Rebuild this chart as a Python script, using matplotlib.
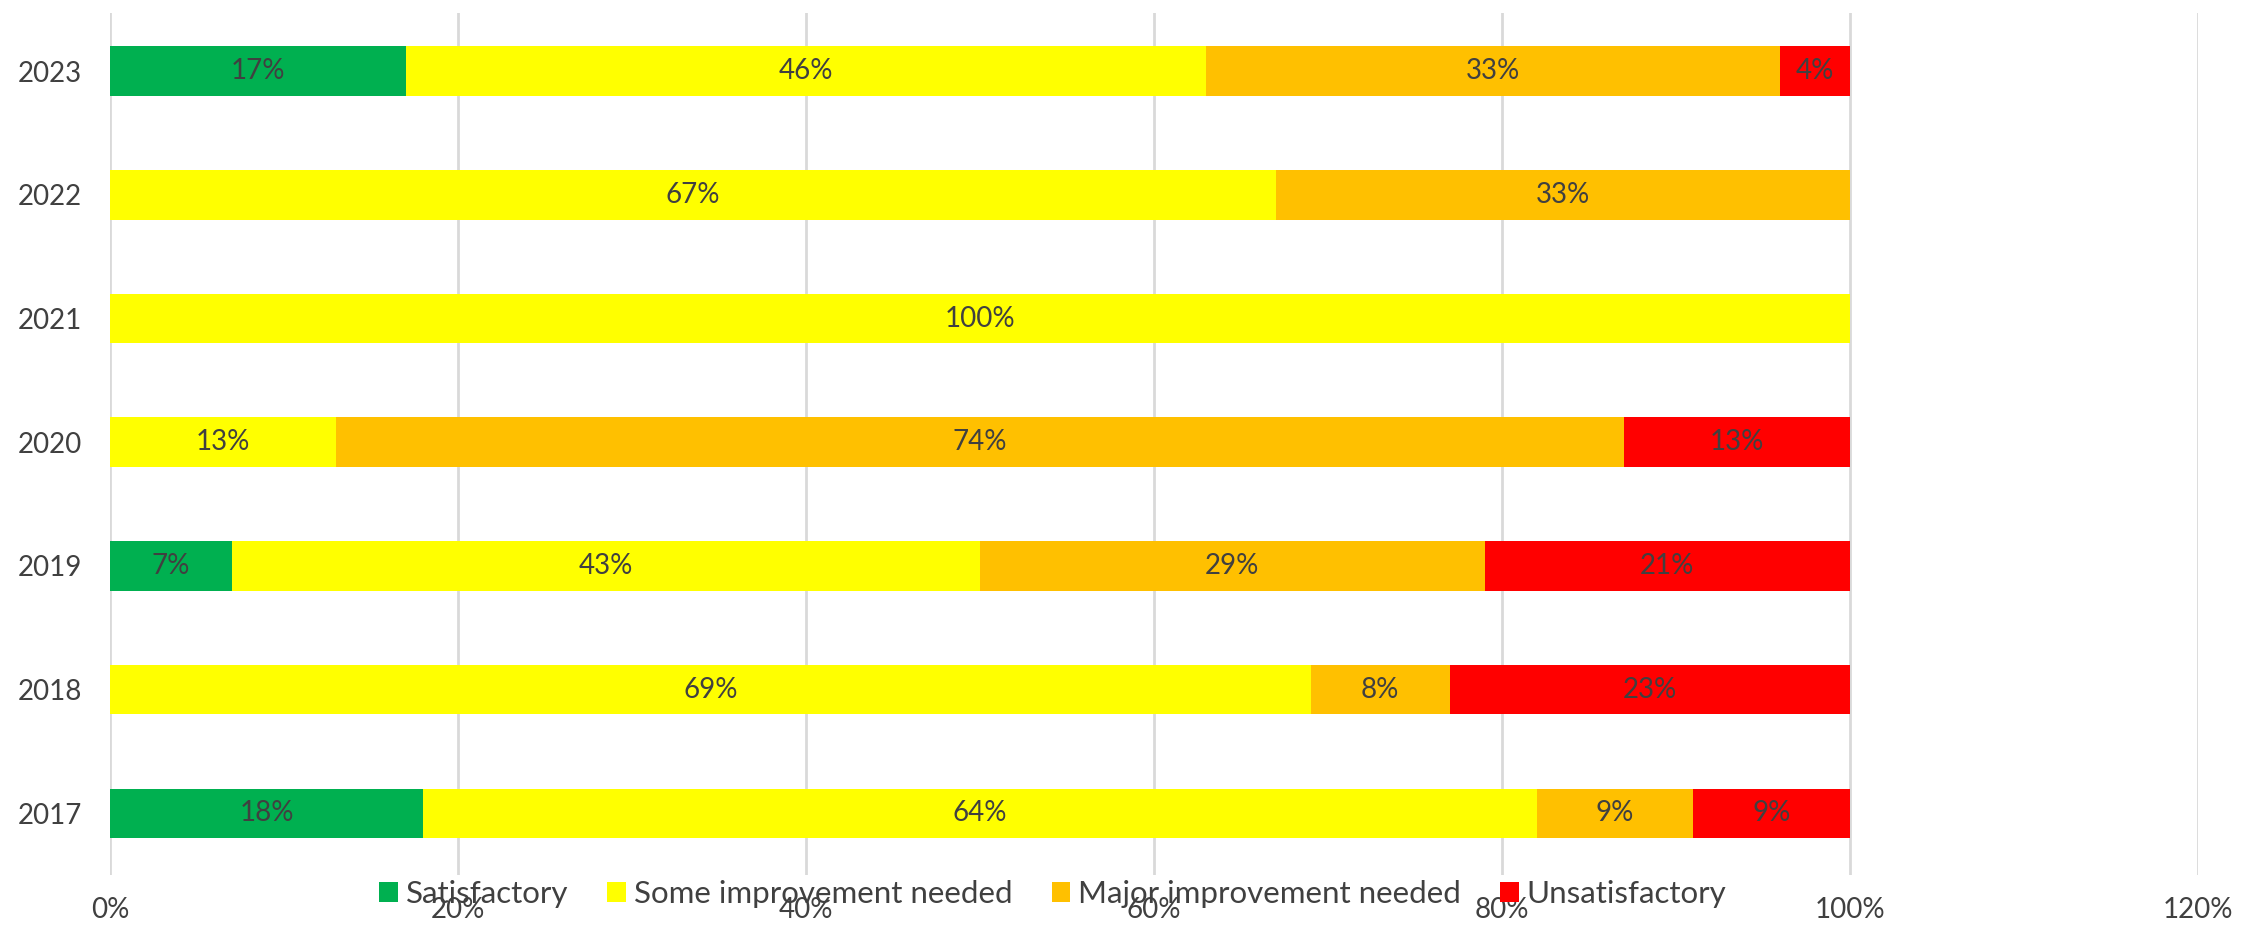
import matplotlib.pyplot as plt
import numpy as np

plt.rcParams['font.family'] = ['Lato', 'DejaVu Sans']

# Data (percent of reports per rating, per year)
years = ['2017', '2018', '2019', '2020', '2021', '2022', '2023']
satisfactory = [18, 0, 7, 0, 0, 0, 17]
some_improvement = [64, 69, 43, 13, 100, 67, 46]
major_improvement = [9, 8, 29, 74, 0, 33, 33]
unsatisfactory = [9, 23, 21, 13, 0, 0, 4]

series = [
    ('Satisfactory', satisfactory, '#00B050'),
    ('Some improvement needed', some_improvement, '#FFFF00'),
    ('Major improvement needed', major_improvement, '#FFC000'),
    ('Unsatisfactory', unsatisfactory, '#FF0000'),
]

text_col = '#404040'
fs = 20

fig = plt.figure(figsize=(22.64, 9.3), dpi=100)
ax = fig.add_axes([0.0486, 0.059, 0.9222, 0.927])

y = np.arange(len(years))
left = np.zeros(len(years))
for name, vals, col in series:
    vals = np.array(vals, dtype=float)
    bars = ax.barh(y, vals, left=left, height=0.4, color=col, label=name, zorder=3)
    for rect, v in zip(bars, vals):
        if v > 0:
            ax.text(rect.get_x() + rect.get_width() / 2, rect.get_y() + rect.get_height() / 2,
                    f'{v:.0f}%', ha='center', va='center', fontsize=fs, color=text_col, zorder=4)
    left += vals

ax.set_xlim(0, 120)
ax.set_ylim(-0.5, 6.47)
ax.set_xticks(np.arange(0, 121, 20))
ax.set_xticklabels([f'{t}%' for t in range(0, 121, 20)])
ax.set_yticks(y)
ax.set_yticklabels(years)
ax.tick_params(axis='both', length=0, labelsize=fs, labelcolor=text_col)
ax.tick_params(axis='x', pad=16)
ax.tick_params(axis='y', pad=20)
ax.grid(axis='x', color='#D9D9D9', linewidth=2, zorder=0)
for s in ax.spines.values():
    s.set_visible(False)

fig.legend(loc='center', bbox_to_anchor=(0.465, 0.039), ncol=4, frameon=False,
           fontsize=22.5, labelcolor=text_col, handlelength=0.6, handleheight=0.6,
           handletextpad=0.25, columnspacing=1.25)

fig.savefig('out.png', dpi=100)
